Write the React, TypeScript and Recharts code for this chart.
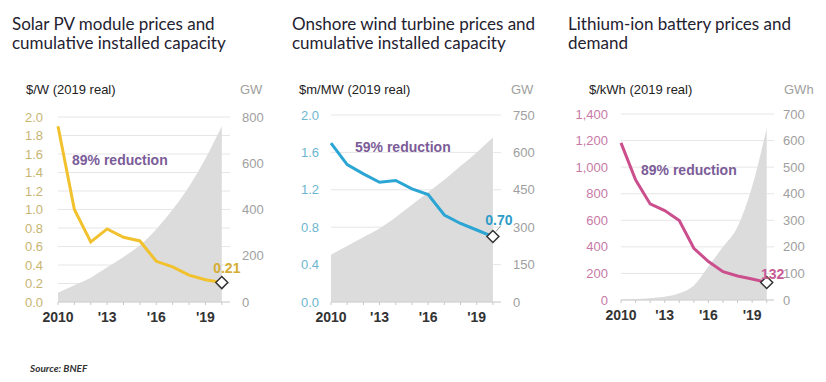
import { Area, CartesianGrid, ComposedChart, Line, XAxis, YAxis } from 'recharts';

const years = [2010, 2011, 2012, 2013, 2014, 2015, 2016, 2017, 2018, 2019, 2020];
const yearTicks = [2010, 2011, 2012, 2013, 2014, 2015, 2016, 2017, 2018, 2019, 2020];
const labelledYears = [2010, 2013, 2016, 2019];

const solarPrice = [1.9, 1.0, 0.65, 0.79, 0.7, 0.66, 0.44, 0.38, 0.29, 0.24, 0.21];
const solarCapacity = [40, 72, 105, 150, 195, 245, 315, 400, 500, 620, 760];
const solarLeftTicks = [0, 0.2, 0.4, 0.6, 0.8, 1.0, 1.2, 1.4, 1.6, 1.8, 2.0];
const solarRightTicks = [0, 200, 400, 600, 800];

const windPrice = [1.7, 1.47, 1.37, 1.28, 1.3, 1.21, 1.15, 0.93, 0.84, 0.77, 0.7];
const windCapacity = [190, 225, 260, 295, 340, 390, 440, 490, 545, 600, 660];
const windLeftTicks = [0, 0.4, 0.8, 1.2, 1.6, 2.0];
const windRightTicks = [0, 150, 300, 450, 600, 750];

const batteryPrice = [1183, 904, 723, 673, 598, 389, 289, 213, 181, 158, 132];
const batteryDemand = [2, 4, 7, 12, 25, 55, 126, 200, 276, 427, 647];
const batteryLeftTicks = [0, 200, 400, 600, 800, 1000, 1200, 1400];
const batteryRightTicks = [0, 100, 200, 300, 400, 500, 600, 700];

const AXIS_FONT = '"Liberation Sans", Arial, sans-serif';
const TITLE_FONT = 'Lato, "Open Sans", sans-serif';

const yearLabel = (y: number) => {
  if (!labelledYears.includes(y)) return '';
  return y === 2010 ? '2010' : `'${String(y).slice(2)}`;
};

interface PanelProps {
  title: string[];
  unit: string;
  rightUnit: string;
  price: number[];
  capacity: number[];
  leftTicks: number[];
  rightTicks: number[];
  leftFormat: (v: number) => string;
  valueLabel: string;
  note: string;
  color: string;
  tickColor: string;
  labelColor: string;
  titleX: number;
  plotLeft: number;
  plotWidth: number;
  plotTop: number;
  plotBottom: number;
  leftMargin: number;
  rightMargin: number;
  notePos: { x: number; y: number };
  labelOffset: { dx: number; dy: number };
  leader?: boolean;
}

const Panel = (p: PanelProps) => {
  const data = years.map((year, i) => ({ year, price: p.price[i], capacity: p.capacity[i] }));
  const last = data.length - 1;
  const leftW = 58;
  const rightW = 40;
  const width = leftW + p.plotWidth + rightW;
  const height = p.plotBottom - p.plotTop + 12 + 28;

  const endDot = (props: any) => {
    const { cx, cy, index } = props;
    if (index !== last) return <g key={`d${index}`} />;
    const s = 6;
    return (
      <g key={`d${index}`}>
        {p.leader && (
          <line x1={cx + 3} y1={cy - 5} x2={cx + 8} y2={cy - 11} stroke='#9a9a9a' strokeWidth={1} />
        )}
        <path
          d={`M${cx},${cy - s} L${cx + s},${cy} L${cx},${cy + s} L${cx - s},${cy} Z`}
          fill='#fff'
          stroke='#333'
          strokeWidth={1.5}
        />
        <text
          x={cx + p.labelOffset.dx}
          y={cy + p.labelOffset.dy}
          textAnchor='middle'
          fontFamily={AXIS_FONT}
          fontWeight={700}
          fontSize={14}
          fill={p.labelColor}
        >
          {p.valueLabel}
        </text>
      </g>
    );
  };

  return (
    <>
      <div
        style={{
          position: 'absolute',
          left: p.titleX,
          top: 14,
          fontFamily: TITLE_FONT,
          fontSize: 17,
          lineHeight: '19px',
          color: '#1f2230',
          whiteSpace: 'nowrap',
        }}
      >
        {p.title.map((t) => (
          <div key={t}>{t}</div>
        ))}
      </div>
      <div
        style={{
          position: 'absolute',
          left: p.plotLeft - 32,
          top: 82,
          fontFamily: AXIS_FONT,
          fontSize: 13,
          color: '#222',
          whiteSpace: 'nowrap',
        }}
      >
        {p.unit}
      </div>
      <div
        style={{
          position: 'absolute',
          left: p.plotLeft + p.plotWidth + 10,
          top: 82,
          fontFamily: AXIS_FONT,
          fontSize: 13,
          color: '#a0a0a0',
          whiteSpace: 'nowrap',
        }}
      >
        {p.rightUnit}
      </div>
      <div
        style={{
          position: 'absolute',
          left: p.plotLeft - leftW,
          top: p.plotTop - 12,
        }}
      >
        <ComposedChart
          width={width}
          height={height}
          data={data}
          margin={{ top: 12, right: 0, bottom: 0, left: 0 }}
        >
          <CartesianGrid yAxisId='left' vertical={false} stroke='#e6e6e6' strokeWidth={1} />
          <XAxis
            dataKey='year'
            type='number'
            domain={[2010, 2020.5]}
            ticks={yearTicks}
            tickFormatter={yearLabel}
            interval={0}
            height={28}
            axisLine={{ stroke: '#d0d0d0' }}
            tickLine={{ stroke: '#c8c8c8' }}
            tickSize={3}
            tickMargin={7}
            tick={{ fill: '#333', fontSize: 14, fontFamily: AXIS_FONT, fontWeight: 700 }}
          />
          <YAxis
            yAxisId='left'
            orientation='left'
            width={leftW}
            domain={[p.leftTicks[0], p.leftTicks[p.leftTicks.length - 1]]}
            ticks={p.leftTicks}
            interval={0}
            tickFormatter={p.leftFormat}
            axisLine={false}
            tickLine={false}
            tickSize={0}
            tickMargin={p.leftMargin}
            tick={{ fill: p.tickColor, fontSize: 13, fontFamily: AXIS_FONT }}
          />
          <YAxis
            yAxisId='right'
            orientation='right'
            width={rightW}
            domain={[p.rightTicks[0], p.rightTicks[p.rightTicks.length - 1]]}
            ticks={p.rightTicks}
            interval={0}
            axisLine={false}
            tickLine={false}
            tickSize={0}
            tickMargin={p.rightMargin}
            tick={{ fill: '#a0a0a0', fontSize: 13, fontFamily: AXIS_FONT }}
          />
          <Area
            yAxisId='right'
            dataKey='capacity'
            type='monotone'
            fill='#dcdcdc'
            fillOpacity={1}
            stroke='none'
            isAnimationActive={false}
          />
          <Line
            yAxisId='left'
            dataKey='price'
            type='linear'
            stroke={p.color}
            strokeWidth={3}
            dot={endDot}
            activeDot={false}
            isAnimationActive={false}
          />
        </ComposedChart>
      </div>
      <div
        style={{
          position: 'absolute',
          left: p.notePos.x,
          top: p.notePos.y,
          fontFamily: AXIS_FONT,
          fontWeight: 700,
          fontSize: 14,
          color: '#7b5c98',
          whiteSpace: 'nowrap',
        }}
      >
        {p.note}
      </div>
    </>
  );
};

export default function App() {
  return (
    <div
      style={{
        position: 'absolute',
        left: 0,
        top: 0,
        width: 826,
        height: 382,
        background: '#fff',
        overflow: 'hidden',
      }}
    >
      <Panel
        title={['Solar PV module prices and', 'cumulative installed capacity']}
        unit='$/W (2019 real)'
        rightUnit='GW'
        price={solarPrice}
        capacity={solarCapacity}
        leftTicks={solarLeftTicks}
        rightTicks={solarRightTicks}
        leftFormat={(v) => v.toFixed(1)}
        valueLabel='0.21'
        note='89% reduction'
        color='#f2c12e'
        tickColor='#c8b572'
        labelColor='#d4ad33'
        titleX={12}
        plotLeft={58}
        plotWidth={172}
        plotTop={117}
        plotBottom={302}
        leftMargin={15}
        rightMargin={12}
        notePos={{ x: 72, y: 152 }}
        labelOffset={{ dx: 5, dy: -10 }}
      />
      <Panel
        title={['Onshore wind turbine prices and', 'cumulative installed capacity']}
        unit='$m/MW (2019 real)'
        rightUnit='GW'
        price={windPrice}
        capacity={windCapacity}
        leftTicks={windLeftTicks}
        rightTicks={windRightTicks}
        leftFormat={(v) => v.toFixed(1)}
        valueLabel='0.70'
        note='59% reduction'
        color='#2ba5d4'
        tickColor='#6db6cf'
        labelColor='#2e9cc8'
        titleX={292}
        plotLeft={331}
        plotWidth={170}
        plotTop={115}
        plotBottom={302}
        leftMargin={12}
        rightMargin={12}
        notePos={{ x: 355, y: 139 }}
        labelOffset={{ dx: 6, dy: -12 }}
        leader
      />
      <Panel
        title={['Lithium-ion battery prices and', 'demand']}
        unit='$/kWh (2019 real)'
        rightUnit='GWh'
        price={batteryPrice}
        capacity={batteryDemand}
        leftTicks={batteryLeftTicks}
        rightTicks={batteryRightTicks}
        leftFormat={(v) => v.toLocaleString('en-US')}
        valueLabel='132'
        note='89% reduction'
        color='#cc4f8d'
        tickColor='#c77aa6'
        labelColor='#c65a95'
        titleX={568}
        plotLeft={621}
        plotWidth={153}
        plotTop={114}
        plotBottom={300}
        leftMargin={13}
        rightMargin={9}
        notePos={{ x: 641, y: 162 }}
        labelOffset={{ dx: 6, dy: -3 }}
      />
      <div
        style={{
          position: 'absolute',
          left: 30,
          top: 362,
          fontFamily: TITLE_FONT,
          fontStyle: 'italic',
          fontWeight: 700,
          fontSize: 10,
          color: '#333',
        }}
      >
        Source: BNEF
      </div>
    </div>
  );
}
